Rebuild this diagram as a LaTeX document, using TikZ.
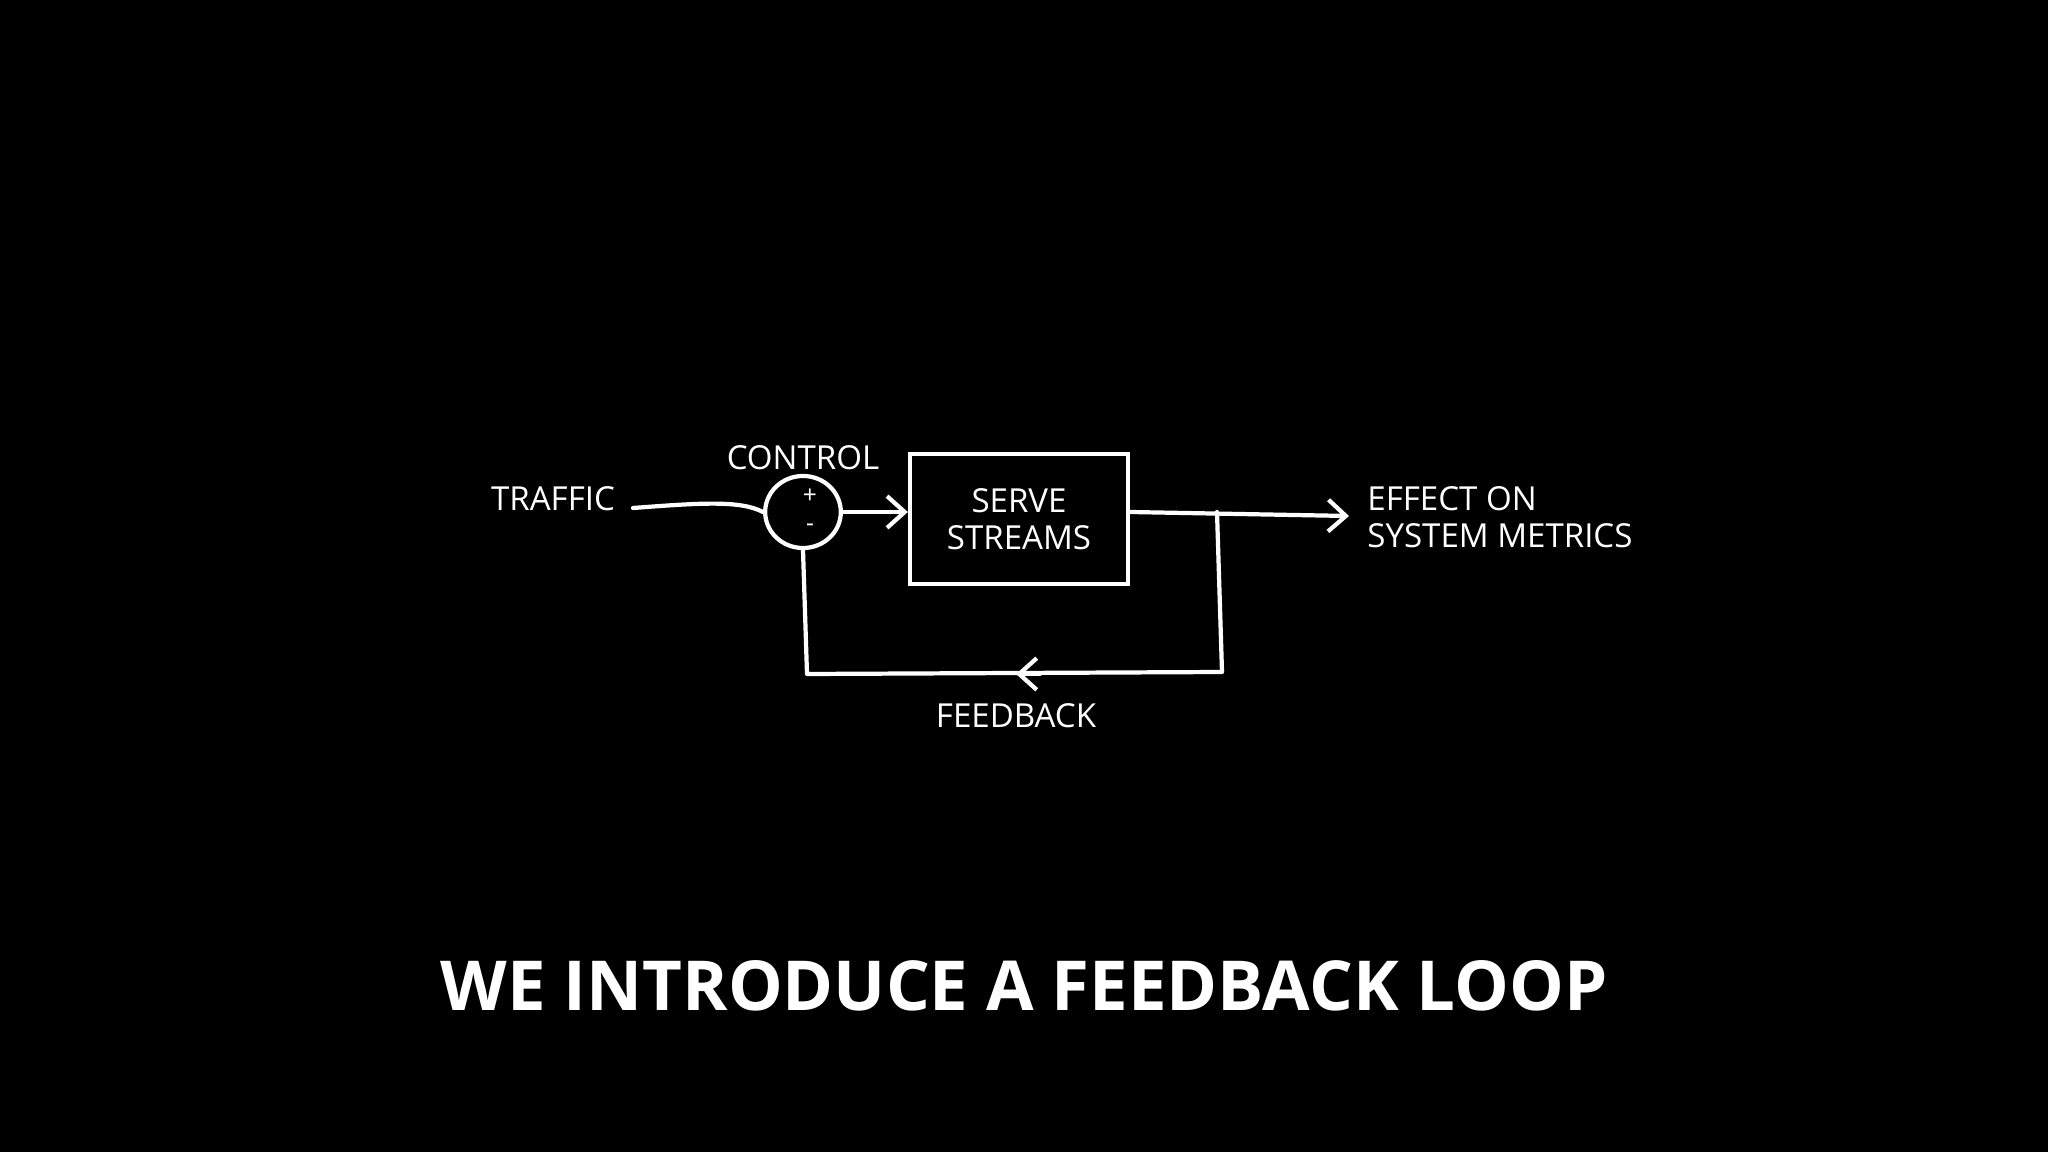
\documentclass[tikz,border=0pt]{standalone}
\usepackage{fontspec}
\setmainfont{Open Sans}
\usetikzlibrary{arrows.meta}
\begin{document}
\begin{tikzpicture}[x=0.01cm,y=-0.01cm,
  ln/.style={white,line width=1.2pt,line cap=round,line join=round},
  arr/.style={ln,-{Straight Barb[length=5pt,width=9pt]}},
  lbl/.style={white,font=\fontsize{9.4}{10.5}\selectfont,align=left}]
\fill[black] (0,0) rectangle (2048,1152);
\useasboundingbox (0,0) rectangle (2048,1152);
\node[lbl] (traffic) at (553,499) {TRAFFIC};
\node[lbl] (control) at (803,458) {CONTROL};
\node[circle,draw=white,line width=1.2pt,minimum size=0.72cm,inner sep=0pt,xscale=1.05] (sum) at (803,512) {};
\node[white,font=\fontsize{7}{8}\selectfont] (plus) at (810,496) {+};
\node[white,font=\fontsize{7}{8}\selectfont] (minus) at (810,528) {-};
\coordinate (tin) at (633,508);
\draw[ln] (tin) .. controls (700,503) and (740,500) .. (sum.west);
\node[draw=white,line width=1.2pt,minimum width=2.18cm,minimum height=1.3cm,lbl,align=center] (box) at (1019,519) {SERVE\\STREAMS};
\draw[arr] (sum.east) -- (box.west |- sum.east);
\coordinate (out) at (1349,516);
\coordinate (branch) at (1217,512);
\draw[arr] (box.east |- sum.east) -- (out);
\node[lbl,anchor=west] (effect) at (1355,517) {EFFECT ON\\SYSTEM METRICS};
\coordinate (br) at (1222,672);
\coordinate (bl) at (807,674);
\coordinate (mid) at (1016,674);
\draw[ln] (branch) -- (br) -- (bl) -- (sum.south);
\draw[arr] (1040,674) -- (mid);
\node[lbl] (feedback) at (1016,716) {FEEDBACK};
\node[white,font=\bfseries\fontsize{19.6}{24}\selectfont] (title) at (1024,986) {WE INTRODUCE A FEEDBACK LOOP};
\end{tikzpicture}
\end{document}
